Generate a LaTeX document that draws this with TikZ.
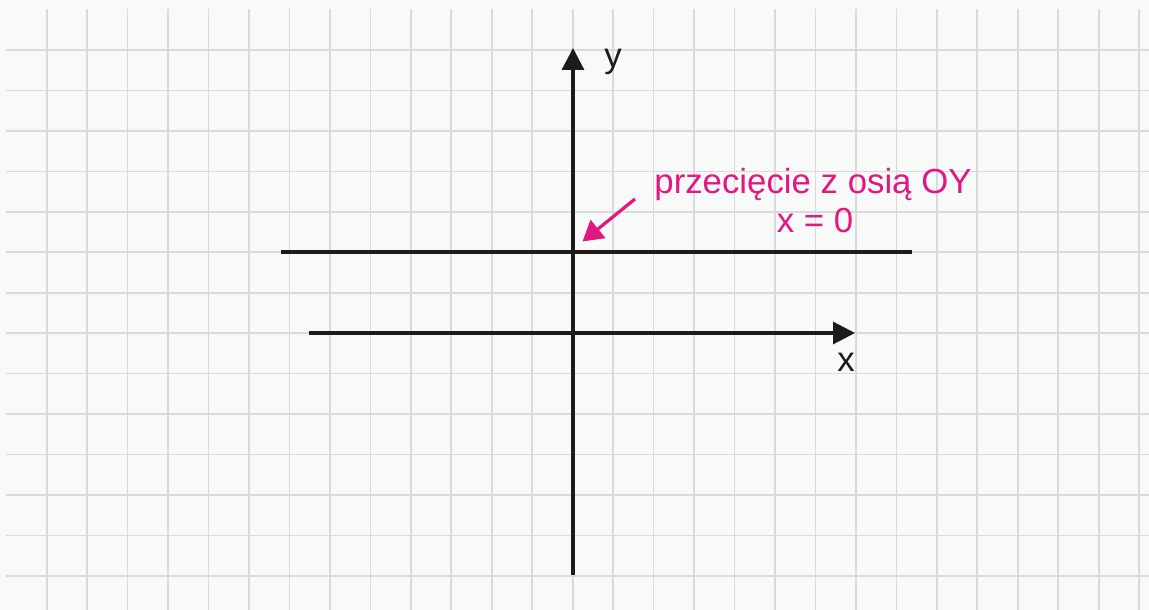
\documentclass[tikz,border=0pt]{standalone}
\usepackage{fontspec}
\setmainfont{Liberation Sans}
\usetikzlibrary{arrows.meta}
\definecolor{bgc}{RGB}{248,249,249}
\definecolor{gridc}{RGB}{218,218,218}
\definecolor{pinkc}{RGB}{226,24,130}
\definecolor{axisc}{RGB}{30,26,26}
\tikzset{
  gridline/.style={gridc, line width=1.7pt},
  axisline/.style={axisc, line width=3.2pt},
  axisarrow/.style={axisline, -{Triangle[length=22pt,width=22pt]}},
  axislabel/.style={inner sep=0pt, anchor=base, text=axisc, font=\fontsize{34.8}{39.4}\selectfont},
  pinklabel/.style={inner sep=0pt, anchor=base, text=pinkc, font=\fontsize{34.8}{39.4}\selectfont},
  pinkarrow/.style={pinkc, line width=3.2pt, -{Triangle[length=20pt,width=23pt]}}
}
\begin{document}
\begin{tikzpicture}[x=1pt,y=-1pt]
\useasboundingbox (0,0) rectangle (1149,610);
\fill[bgc] (0,0) rectangle (1149,610);
% grid
\foreach \k in {0,...,27} {
  \draw[gridline] ({46.7+40.46*\k},9) -- ({46.7+40.46*\k},610);
}
\foreach \k in {0,...,13} {
  \draw[gridline] (6,{50+40.45*\k}) -- (1149,{50+40.45*\k});
}
% axes
\coordinate (ybot) at (573,575);
\coordinate (ytop) at (573,48);
\coordinate (xleft) at (309,333);
\coordinate (xright) at (855,333);
\coordinate (hl) at (281,252);
\coordinate (hr) at (912,252);
\draw[axisline] (hl) -- (hr);
\draw[axisarrow] (xleft) -- (xright);
\draw[axisarrow] (ybot) -- (ytop);
\node[axislabel] (ylab) at (613,68) {y};
\node[axislabel] (xlab) at (846,371) {x};
% annotation
\node[pinklabel] (ann1) at (813,193.3) {przecięcie z osią OY};
\node[pinklabel] (ann2) at (815,232.7) {x = 0};
\coordinate (pa) at (635,199);
\coordinate (pb) at (582.5,241.5);
\draw[pinkarrow] (pa) -- (pb);
\end{tikzpicture}
\end{document}
